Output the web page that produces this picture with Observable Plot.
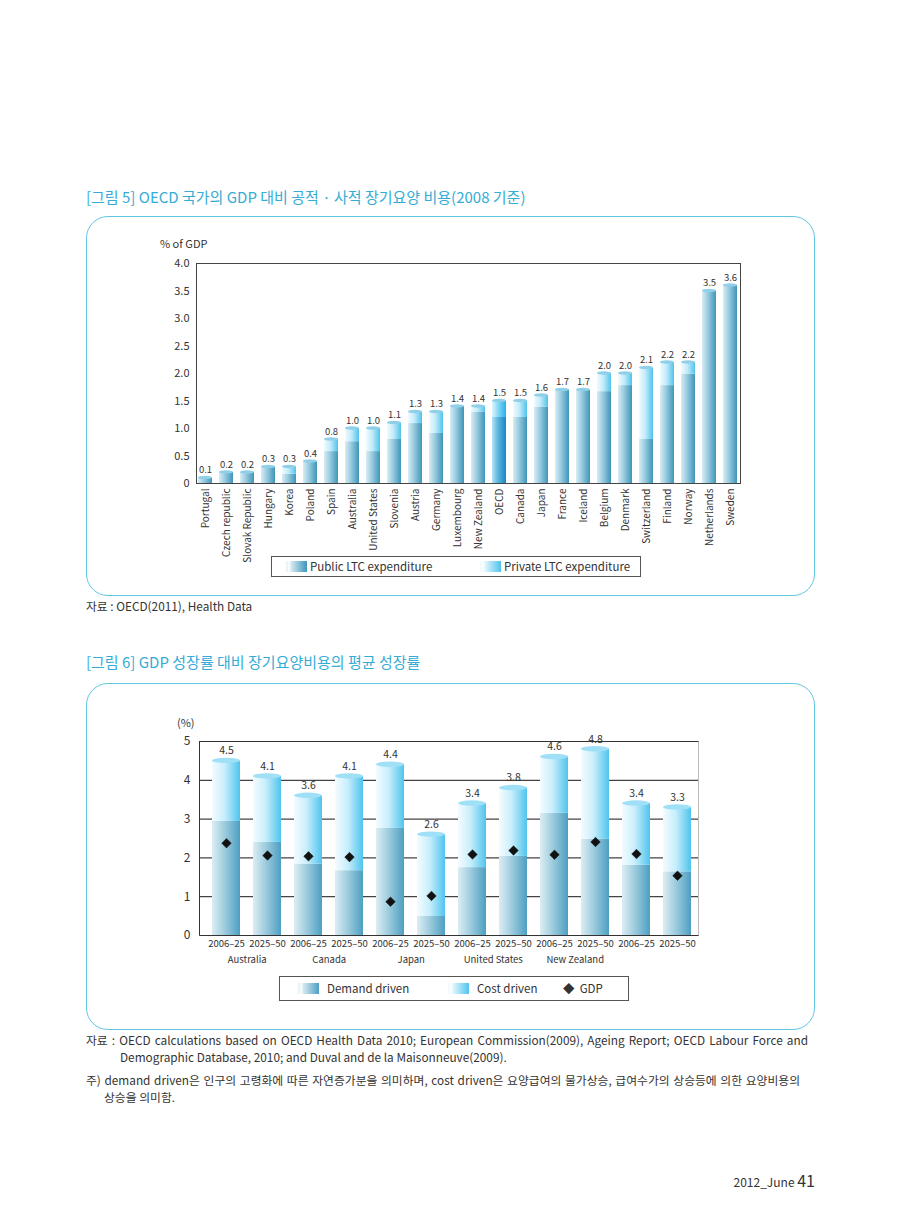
<!DOCTYPE html>
<html><head><meta charset="utf-8">
<script src="https://cdn.jsdelivr.net/npm/d3@7"></script>
<script src="https://cdn.jsdelivr.net/npm/@observablehq/plot@0.6"></script>
<style>
html,body{margin:0;padding:0;background:#fff;}
body{width:900px;height:1231px;position:relative;overflow:hidden;font-family:"Noto Sans CJK KR","Noto Sans",sans-serif;color:#333;}
.abs{position:absolute;white-space:nowrap;}
.title{color:#35acd6;font-size:15px;line-height:18px;}
.box{position:absolute;border:1.3px solid #62c6e3;border-radius:22px;box-sizing:border-box;}
.lg{position:absolute;border:1px solid #555;box-sizing:border-box;background:#fff;}
.sw{position:absolute;height:11px;width:22px;}
.note{font-size:11.8px;line-height:16px;color:#333;}
.chart{position:absolute;left:0;}
.chart svg{display:block;}
</style></head>
<body>
<svg width="0" height="0" style="position:absolute">
<defs>
<linearGradient id="pub" x1="0" x2="1" y1="0" y2="0">
<stop offset="0" stop-color="#d8edf5"/><stop offset="0.4" stop-color="#9ccde0"/><stop offset="1" stop-color="#3e95b9"/></linearGradient>
<linearGradient id="priv" x1="0" x2="1" y1="0" y2="0">
<stop offset="0" stop-color="#f1fbfe"/><stop offset="0.45" stop-color="#c3ebf9"/><stop offset="1" stop-color="#4fc3ec"/></linearGradient>
<linearGradient id="pubO" x1="0" x2="1" y1="0" y2="0">
<stop offset="0" stop-color="#b9e2f4"/><stop offset="0.4" stop-color="#5fb8e0"/><stop offset="1" stop-color="#1685c4"/></linearGradient>
<linearGradient id="privO" x1="0" x2="1" y1="0" y2="0">
<stop offset="0" stop-color="#dff5fd"/><stop offset="0.4" stop-color="#8fdaf6"/><stop offset="1" stop-color="#22b2ea"/></linearGradient>
<linearGradient id="dem" x1="0" x2="1" y1="0" y2="0">
<stop offset="0" stop-color="#dcedf3"/><stop offset="0.4" stop-color="#a5d0e0"/><stop offset="1" stop-color="#4d9fc2"/></linearGradient>
<linearGradient id="cost" x1="0" x2="1" y1="0" y2="0">
<stop offset="0" stop-color="#f4fcff"/><stop offset="0.45" stop-color="#c8eefb"/><stop offset="1" stop-color="#4fc4ee"/></linearGradient>
</defs></svg>

<div class="abs title" style="left:86px;top:188px;">[그림 5] OECD 국가의 GDP 대비 공적 · 사적 장기요양 비용(2008 기준)</div>
<div class="box" style="left:86px;top:216px;width:729px;height:380px;"></div>
<div class="abs" style="left:160px;top:235px;font-size:11px;line-height:16px;">% of GDP</div>
<div id="c1" class="chart" style="top:250px;"></div>
<div class="lg" style="left:271px;top:556px;width:370px;height:21px;">
  <div class="sw" style="left:13px;top:4px;background:linear-gradient(to right,#fff 0,#e4f1f6 10%,#fff 18%,#cfe7f0 30%,#3e95b9 100%);"></div>
  <div class="abs" style="left:38px;top:1px;font-size:11.5px;line-height:17px;">Public LTC expenditure</div>
  <div class="sw" style="left:207px;top:4px;background:linear-gradient(to right,#fff 0,#eefaff 10%,#fff 18%,#dcf4fc 30%,#4fc3ec 100%);"></div>
  <div class="abs" style="left:232px;top:1px;font-size:11.5px;line-height:17px;">Private LTC expenditure</div>
</div>
<div class="abs note" style="left:86px;top:598px;">자료 : OECD(2011), Health Data</div>

<div class="abs title" style="left:86px;top:653px;">[그림 6] GDP 성장률 대비 장기요양비용의 평균 성장률</div>
<div class="box" style="left:86px;top:683px;width:729px;height:347px;"></div>
<div class="abs" style="left:177px;top:715px;font-size:11px;line-height:14px;">(%)</div>
<div id="c2" class="chart" style="top:730px;"></div>
<div class="lg" style="left:279px;top:976px;width:350px;height:25px;">
  <div class="sw" style="left:17px;top:6px;background:linear-gradient(to right,#fff 0,#e4f1f6 10%,#fff 18%,#d2e8f0 30%,#4d9fc2 100%);"></div>
  <div class="abs" style="left:47px;top:3px;font-size:11.5px;line-height:17px;">Demand driven</div>
  <div class="sw" style="left:167px;top:6px;background:linear-gradient(to right,#fff 0,#eefaff 10%,#fff 18%,#dcf4fc 30%,#4fc4ee 100%);"></div>
  <div class="abs" style="left:197px;top:3px;font-size:11.5px;line-height:17px;">Cost driven</div>
  <div class="abs" style="left:283px;top:3px;font-size:11.5px;line-height:17px;">◆&nbsp;&nbsp;GDP</div>
</div>

<div class="abs note" style="left:86px;top:1032px;width:722px;white-space:normal;text-align:justify;text-align-last:justify;">자료 : OECD calculations based on OECD Health Data 2010; European Commission(2009), Ageing Report; OECD Labour Force and</div>
<div class="abs note" style="left:120px;top:1049px;">Demographic Database, 2010; and Duval and de la Maisonneuve(2009).</div>
<div class="abs note" style="left:86px;top:1072px;width:714px;white-space:normal;text-align:justify;text-align-last:justify;">주) demand driven은 인구의 고령화에 따른 자연증가분을 의미하며, cost driven은 요양급여의 물가상승, 급여수가의 상승등에 의한 요양비용의</div>
<div class="abs note" style="left:104px;top:1089px;">상승을 의미함.</div>

<div class="abs" style="left:700px;top:1170px;width:115px;text-align:right;font-size:12px;line-height:20px;color:#333;">2012_June&nbsp;<span style="font-size:16px;">41</span></div>

<script>
// ---- Chart 1 data ----
const countries = ["Portugal","Czech republic","Slovak Republic","Hungary","Korea","Poland","Spain","Australia","United States","Slovenia","Austria","Germany","Luxembourg","New Zealand","OECD","Canada","Japan","France","Iceland","Belgium","Denmark","Switzerland","Finland","Norway","Netherlands","Sweden"];
const totalLTC  = [0.1,0.2,0.2,0.3,0.3,0.4,0.8,1.0,1.0,1.1,1.3,1.3,1.4,1.4,1.5,1.5,1.6,1.7,1.7,2.0,2.0,2.1,2.2,2.2,3.5,3.6];
const publicLTC = [0.1,0.2,0.2,0.3,0.17,0.4,0.58,0.76,0.58,0.8,1.09,0.91,1.4,1.3,1.2,1.2,1.39,1.7,1.7,1.67,1.78,0.8,1.78,1.99,3.5,3.6];
const yTicks1 = [0,0.5,1.0,1.5,2.0,2.5,3.0,3.5,4.0];

// ---- Chart 2 data ----
const groups2  = ["Australia","Canada","Japan","United States","New Zealand",""];
const periods2 = ["2006–25","2025–50"];
const total2   = [4.5,4.1,3.6,4.1,4.4,2.6,3.4,3.8,4.6,4.8,3.4,3.3];
const demand2  = [2.94,2.40,1.84,1.67,2.76,0.49,1.75,2.04,3.15,2.48,1.81,1.64];
const gdp2     = [2.38,2.06,2.04,2.02,0.87,1.02,2.09,2.19,2.08,2.41,2.10,1.54];
const yTicks2  = [0,1,2,3,4,5];

const font = '"Noto Sans CJK KR","Noto Sans",sans-serif';
const d1 = countries.map((c,i)=>({country:c,total:totalLTC[i],pub:publicLTC[i]}));
const base1 = d1.filter(d=>d.country!=="OECD"), oecd1 = d1.filter(d=>d.country==="OECD");

const H1 = 320;
const c1 = Plot.plot({
  width:900, height:H1,
  marginLeft:196, marginRight:160, marginTop:13, marginBottom:H1-233,
  style:{fontFamily:font,color:"#333",background:"transparent"},
  x:{type:"band",domain:countries,paddingInner:0.31,paddingOuter:0.085,align:0.55},
  y:{domain:[0,4]},
  marks:[
    Plot.barY(base1,{x:"country",y1:0,y2:"pub",fill:"url(#pub)"}),
    Plot.barY(base1,{x:"country",y1:"pub",y2:"total",fill:"url(#priv)"}),
    Plot.barY(oecd1,{x:"country",y1:0,y2:"pub",fill:"url(#pubO)"}),
    Plot.barY(oecd1,{x:"country",y1:"pub",y2:"total",fill:"url(#privO)"}),
    Plot.barY(d1,{x:"country",y1:d=>d.total-0.03,y2:d=>d.total+0.03,fill:"#8fd0e8",rx:20,ry:20}),
    Plot.frame({stroke:"#444"}),
    Plot.text(d1,{x:"country",y:"total",text:d=>d.total.toFixed(1),dy:-8,fontSize:9.5,fill:"#333"}),
    Plot.axisY({ticks:yTicks1,tickFormat:d=>d===0?"0":d.toFixed(1),tickSize:0,tickPadding:7,fontSize:11,label:null}),
    Plot.axisX({tickRotate:-90,tickSize:0,tickPadding:5,fontSize:10,label:null})
  ]
});
document.getElementById("c1").appendChild(c1);

const ids2 = total2.map((_,i)=>i);
const d2 = ids2.map(i=>({id:i,period:periods2[i%2],group:groups2[Math.floor(i/2)],total:total2[i],demand:demand2[i],gdp:gdp2[i]}));
const H2 = 240;
const mL2 = 199, mR2 = 202, mT2 = 11, mB2 = H2-205;
const plotW2 = 900-mL2-mR2, plotH2 = H2-mT2-mB2;
const step2 = plotW2/(12-0.325+2*0.18);
const c2 = Plot.plot({
  width:900, height:H2,
  marginLeft:mL2, marginRight:mR2, marginTop:mT2, marginBottom:mB2,
  style:{fontFamily:font,color:"#333",background:"transparent",overflow:"visible"},
  x:{type:"band",domain:ids2,paddingInner:0.325,paddingOuter:0.18,align:0.66},
  y:{domain:[0,5]},
  marks:[
    Plot.frame({stroke:"#bbb"}),
    Plot.ruleY(yTicks2.filter(d=>d>0),{stroke:"#444",strokeWidth:1.2}),
    Plot.frame({stroke:"#333",strokeDasharray:`${plotW2} ${plotH2} ${plotW2+plotH2} 0`}),
    Plot.barY(d2,{x:"id",y1:0,y2:"demand",fill:"url(#dem)"}),
    Plot.barY(d2,{x:"id",y1:"demand",y2:"total",fill:"url(#cost)"}),
    Plot.barY(d2,{x:"id",y1:d=>d.total-0.07,y2:d=>d.total+0.07,fill:"#9fe0f7",rx:20,ry:20}),
    Plot.dot(d2,{x:"id",y:"gdp",symbol:"diamond2",r:4.3,fill:"#111",stroke:"#111",strokeWidth:0.5}),
    Plot.text(d2,{x:"id",y:"total",text:d=>d.total.toFixed(1),dy:-10,fontSize:10.5,fill:"#333"}),
    Plot.text(d2.filter(d=>d.id%2===0),{x:"id",y:0,text:"group",dx:step2/2,dy:24,fontSize:9.5,fill:"#333"}),
    Plot.axisY({ticks:yTicks2,tickFormat:d=>String(d),tickSize:0,tickPadding:9,fontSize:12,label:null}),
    Plot.axisX({tickFormat:i=>periods2[i%2],tickSize:0,tickPadding:5,fontSize:9.5,label:null})
  ]
});
document.getElementById("c2").appendChild(c2);
</script>
</body></html>
